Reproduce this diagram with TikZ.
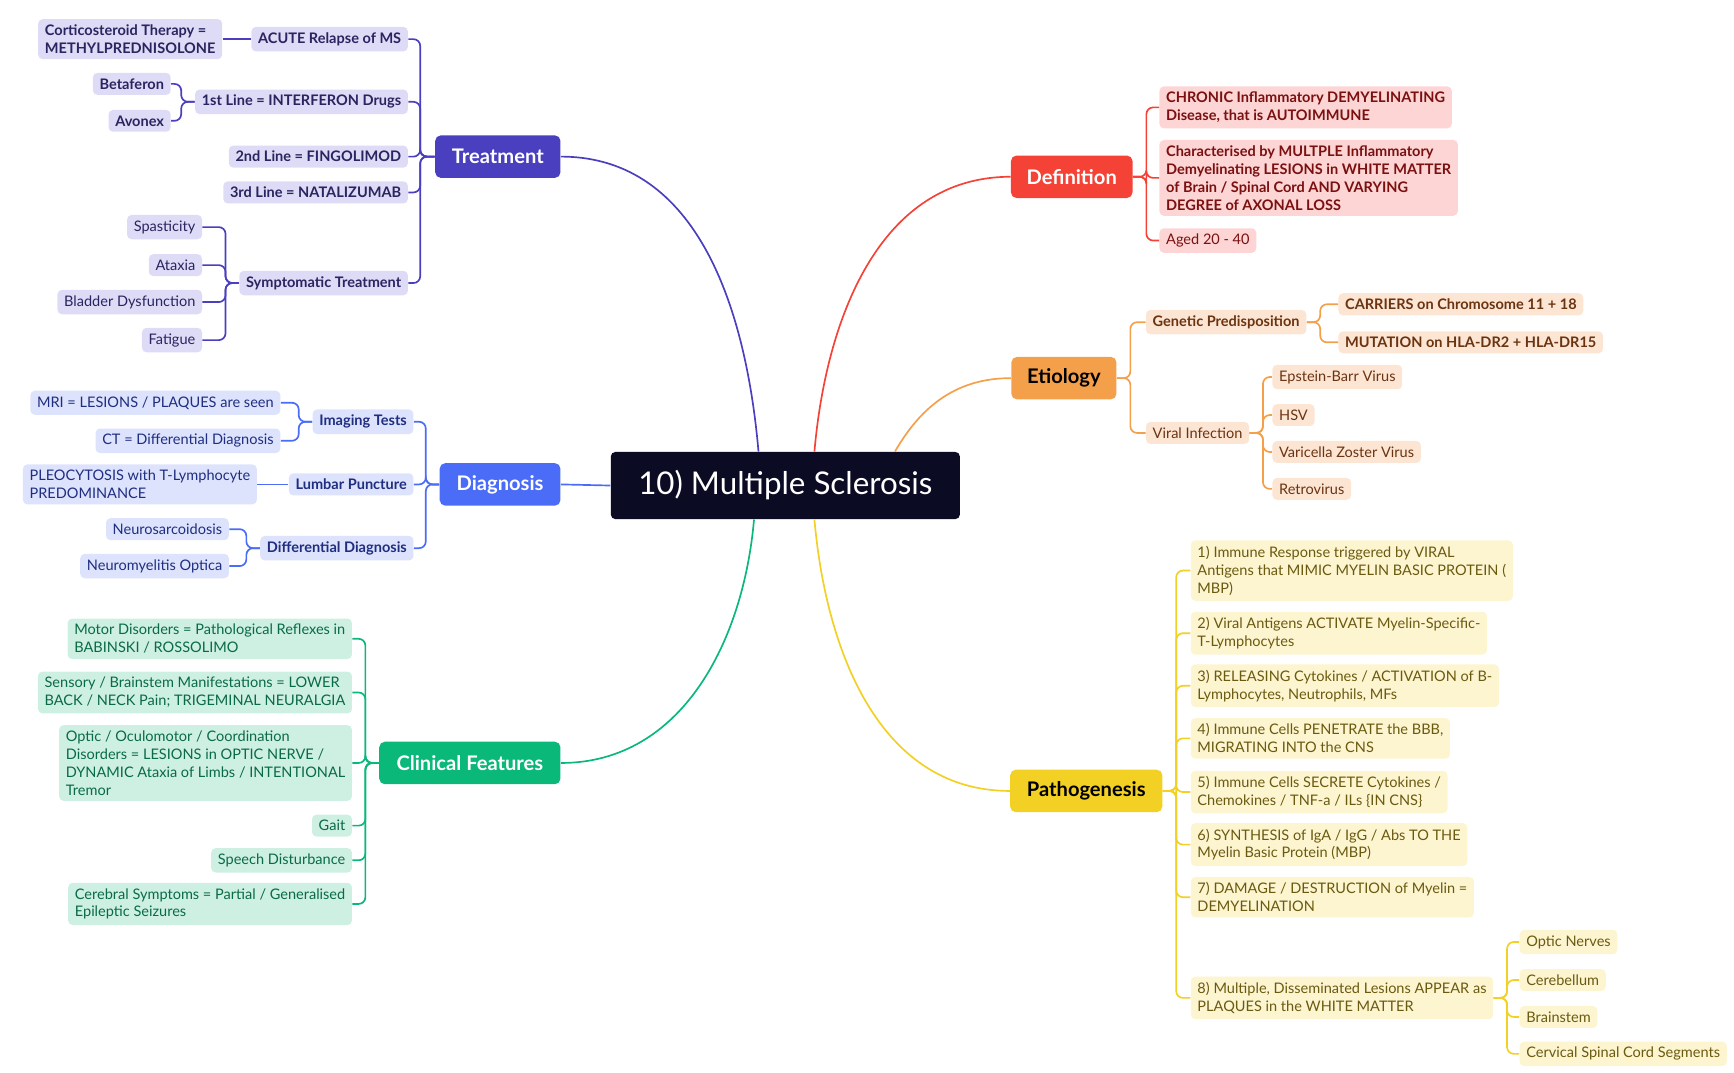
\documentclass[tikz,border=0pt]{standalone}
\usepackage{fontspec}
\setmainfont{Lato}
\usepackage{tikz}
\usetikzlibrary{positioning}

\definecolor{trM}{HTML}{4A3FBF}\definecolor{trL}{HTML}{DEDBF6}\definecolor{trD}{HTML}{2A2460}
\definecolor{diM}{HTML}{4A6CF7}\definecolor{diL}{HTML}{DDE3FD}\definecolor{diD}{HTML}{1F2E80}
\definecolor{clM}{HTML}{0AB87A}\definecolor{clL}{HTML}{CDF0E3}\definecolor{clD}{HTML}{0A6A48}
\definecolor{deM}{HTML}{F44336}\definecolor{deL}{HTML}{FDD5D5}\definecolor{deD}{HTML}{7A1010}
\definecolor{etM}{HTML}{F4A04A}\definecolor{etL}{HTML}{FDE5D4}\definecolor{etD}{HTML}{6A3410}
\definecolor{paM}{HTML}{F2D024}\definecolor{paL}{HTML}{FDF5D0}\definecolor{paD}{HTML}{6A5A10}
\definecolor{core}{HTML}{0B0B23}

\tikzset{
  leaf/.style={rounded corners=2pt, inner xsep=3pt, inner ysep=2.5pt, align=left,
    font=\fontsize{6.5}{8}\selectfont},
  bold/.style={font=\fontsize{6.5}{8}\selectfont\bfseries},
  main/.style={rounded corners=2.5pt, text=white, font=\fontsize{9}{10}\selectfont\bfseries,
    minimum height=19pt, inner xsep=7pt},
  tr/.style={leaf, fill=trL, text=trD}, di/.style={leaf, fill=diL, text=diD},
  cl/.style={leaf, fill=clL, text=clD}, de/.style={leaf, fill=deL, text=deD},
  et/.style={leaf, fill=etL, text=etD}, pa/.style={leaf, fill=paL, text=paD},
  lk/.style={line width=0.75pt, rounded corners=3pt},
}

\begin{document}
\begin{tikzpicture}[x=0.5pt, y=-0.5pt]
  \useasboundingbox (0,0) rectangle (1550,959);

  \node (ms) at (702,434) [fill=core, text=white, rounded corners=2pt, minimum width=156pt,
    minimum height=30pt, font=\fontsize{14}{16}\selectfont] {10) Multiple Sclerosis};

  % main branches
  \node (treat) at (445,140) [main, fill=trM, minimum width=56pt] {Treatment};
  \node (diag) at (447,433) [main, fill=diM, minimum width=54pt] {Diagnosis};
  \node (clin) at (420,682) [main, fill=clM, minimum width=81pt] {Clinical Features};
  \node (defn) at (958,158) [main, fill=deM, minimum width=54pt] {Definition};
  \node (etio) at (951,338) [main, fill=etM, minimum width=47pt, text=black] {Etiology};
  \node (path) at (971,707) [main, fill=paM, minimum width=68pt, text=black] {Pathogenesis};

  \draw[lk, trM] ([xshift=-12pt]ms.north) to[out=95, in=0] (treat.east);
  \draw[lk, deM] ([xshift=13pt]ms.north) to[out=85, in=180] (defn.west);
  \draw[lk, etM] ([xshift=49pt]ms.north) to[out=60, in=180] (etio.west);
  \draw[lk, diM] (ms.west) -- (diag.east);
  \draw[lk, clM] ([xshift=-14pt]ms.south) to[out=-95, in=0] (clin.east);
  \draw[lk, paM] ([xshift=13pt]ms.south) to[out=-85, in=180] (path.west);

  % Treatment
  \node (acute) at (365,35) [tr, bold, anchor=east] {ACUTE Relapse of MS};
  \node (cort) at (199,35) [tr, bold, anchor=east] {Corticosteroid Therapy =\\METHYLPREDNISOLONE};
  \node (line1) at (365,91) [tr, bold, anchor=east] {1st Line = INTERFERON Drugs};
  \node (beta) at (153,75) [tr, bold, anchor=east] {Betaferon};
  \node (avon) at (153,108) [tr, bold, anchor=east] {Avonex};
  \node (line2) at (365,140) [tr, bold, anchor=east] {2nd Line = FINGOLIMOD};
  \node (line3) at (365,172) [tr, bold, anchor=east] {3rd Line = NATALIZUMAB};
  \node (sympt) at (365,253) [tr, bold, anchor=east] {Symptomatic Treatment};
  \node (spas) at (181,203) [tr, anchor=east] {Spasticity};
  \node (atax) at (181,237) [tr, anchor=east] {Ataxia};
  \node (blad) at (181,270) [tr, anchor=east] {Bladder Dysfunction};
  \node (fati) at (181,304) [tr, anchor=east] {Fatigue};
  \foreach \c in {acute,line1,line2,line3,sympt}
    \draw[lk, trM] (treat.west) -- +(-13,0) |- (\c.east);
  \draw[lk, trM] (acute.west) -- (cort.east);
  \foreach \c in {beta,avon}
    \draw[lk, trM] (line1.west) -- +(-12,0) |- (\c.east);
  \foreach \c in {spas,atax,blad,fati}
    \draw[lk, trM] (sympt.west) -- +(-12,0) |- (\c.east);

  % Diagnosis
  \node (imag) at (370,377) [di, bold, anchor=east] {Imaging Tests};
  \node (mri) at (251,360) [di, anchor=east] {MRI = LESIONS / PLAQUES are seen};
  \node (ct) at (251,394) [di, anchor=east] {CT = Differential Diagnosis};
  \node (lumb) at (370,433) [di, bold, anchor=east] {Lumbar Puncture};
  \node (pleo) at (230,433) [di, anchor=east] {PLEOCYTOSIS with T-Lymphocyte\\PREDOMINANCE};
  \node (diff) at (370,490) [di, bold, anchor=east] {Differential Diagnosis};
  \node (neus) at (205,473) [di, anchor=east] {Neurosarcoidosis};
  \node (neum) at (205,506) [di, anchor=east] {Neuromyelitis Optica};
  \foreach \c in {imag,lumb,diff}
    \draw[lk, diM] (diag.west) -- +(-12,0) |- (\c.east);
  \foreach \c in {mri,ct}
    \draw[lk, diM] (imag.west) -- +(-12,0) |- (\c.east);
  \draw[lk, diM] (lumb.west) -- (pleo.east);
  \foreach \c in {neus,neum}
    \draw[lk, diM] (diff.west) -- +(-12,0) |- (\c.east);

  % Clinical Features
  \node (motor) at (315,571) [cl, anchor=east] {Motor Disorders = Pathological Reflexes in\\BABINSKI / ROSSOLIMO};
  \node (sens) at (315,619) [cl, anchor=east] {Sensory / Brainstem Manifestations = LOWER\\BACK / NECK Pain; TRIGEMINAL NEURALGIA};
  \node (optic) at (315,682) [cl, anchor=east] {Optic / Oculomotor / Coordination\\Disorders = LESIONS in OPTIC NERVE /\\DYNAMIC Ataxia of Limbs / INTENTIONAL\\Tremor};
  \node (gait) at (315,738) [cl, anchor=east] {Gait};
  \node (speech) at (315,769) [cl, anchor=east] {Speech Disturbance};
  \node (cereb) at (315,808) [cl, anchor=east] {Cerebral Symptoms = Partial / Generalised\\Epileptic Seizures};
  \foreach \c in {motor,sens,optic,gait,speech,cereb}
    \draw[lk, clM] (clin.west) -- +(-12,0) |- (\c.east);

  % Definition
  \node (chron) at (1036,96) [de, bold, anchor=west] {CHRONIC Inflammatory DEMYELINATING\\Disease, that is AUTOIMMUNE};
  \node (chars) at (1036,159) [de, bold, anchor=west] {Characterised by MULTPLE Inflammatory\\Demyelinating LESIONS in WHITE MATTER\\of Brain / Spinal Cord AND VARYING\\DEGREE of AXONAL LOSS};
  \node (aged) at (1036,215) [de, anchor=west] {Aged 20 - 40};
  \foreach \c in {chron,chars,aged}
    \draw[lk, deM] (defn.east) -- +(12,0) |- (\c.west);

  % Etiology
  \node (gene) at (1024,288) [et, bold, anchor=west] {Genetic Predisposition};
  \node (carr) at (1196,272) [et, bold, anchor=west] {CARRIERS on Chromosome 11 + 18};
  \node (muta) at (1196,306) [et, bold, anchor=west] {MUTATION on HLA-DR2 + HLA-DR15};
  \node (viral) at (1024,387) [et, anchor=west] {Viral Infection};
  \node (ebv) at (1137,337) [et, anchor=west] {Epstein-Barr Virus};
  \node (hsv) at (1137,371) [et, anchor=west] {HSV};
  \node (vzv) at (1137,404) [et, anchor=west] {Varicella Zoster Virus};
  \node (retro) at (1137,437) [et, anchor=west] {Retrovirus};
  \foreach \c in {gene,viral}
    \draw[lk, etM] (etio.east) -- +(12,0) |- (\c.west);
  \foreach \c in {carr,muta}
    \draw[lk, etM] (gene.east) -- +(12,0) |- (\c.west);
  \foreach \c in {ebv,hsv,vzv,retro}
    \draw[lk, etM] (viral.east) -- +(12,0) |- (\c.west);

  % Pathogenesis
  \node (p1) at (1064,510) [pa, anchor=west] {1) Immune Response triggered by VIRAL\\Antigens that MIMIC MYELIN BASIC PROTEIN (\\MBP)};
  \node (p2) at (1064,566) [pa, anchor=west] {2) Viral Antigens ACTIVATE Myelin-Specific-\\T-Lymphocytes};
  \node (p3) at (1064,613) [pa, anchor=west] {3) RELEASING Cytokines / ACTIVATION of B-\\Lymphocytes, Neutrophils, MFs};
  \node (p4) at (1064,660) [pa, anchor=west] {4) Immune Cells PENETRATE the BBB,\\MIGRATING INTO the CNS};
  \node (p5) at (1064,708) [pa, anchor=west] {5) Immune Cells SECRETE Cytokines /\\Chemokines / TNF-a / ILs \{IN CNS\}};
  \node (p6) at (1064,755) [pa, anchor=west] {6) SYNTHESIS of IgA / IgG / Abs TO THE\\Myelin Basic Protein (MBP)};
  \node (p7) at (1064,802) [pa, anchor=west] {7) DAMAGE / DESTRUCTION of Myelin =\\DEMYELINATION};
  \node (p8) at (1064,892) [pa, anchor=west] {8) Multiple, Disseminated Lesions APPEAR as\\PLAQUES in the WHITE MATTER};
  \node (optn) at (1358,842) [pa, anchor=west] {Optic Nerves};
  \node (cbl) at (1358,876) [pa, anchor=west] {Cerebellum};
  \node (brst) at (1358,909) [pa, anchor=west] {Brainstem};
  \node (cerv) at (1358,942) [pa, anchor=west] {Cervical Spinal Cord Segments};
  \foreach \c in {p1,p2,p3,p4,p5,p6,p7,p8}
    \draw[lk, paM] (path.east) -- +(12,0) |- (\c.west);
  \foreach \c in {optn,cbl,brst,cerv}
    \draw[lk, paM] (p8.east) -- +(12,0) |- (\c.west);
\end{tikzpicture}
\end{document}
